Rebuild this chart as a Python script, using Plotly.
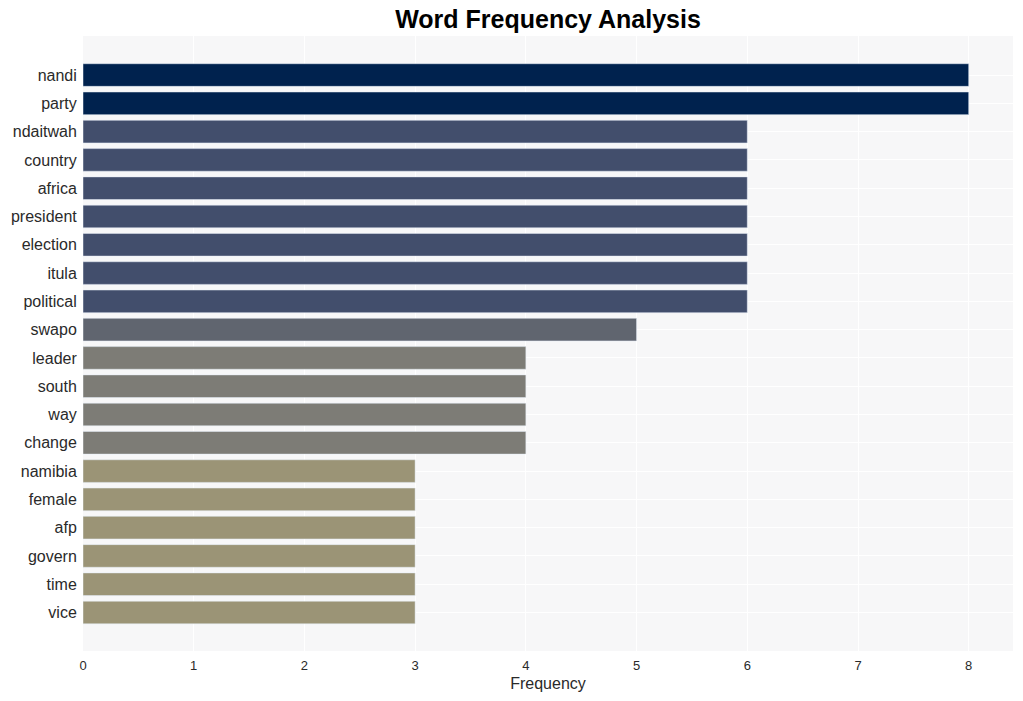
import plotly.graph_objects as go

words = ["nandi", "party", "ndaitwah", "country", "africa", "president", "election",
         "itula", "political", "swapo", "leader", "south", "way", "change",
         "namibia", "female", "afp", "govern", "time", "vice"]
freqs = [8, 8, 6, 6, 6, 6, 6, 6, 6, 5, 4, 4, 4, 4, 3, 3, 3, 3, 3, 3]

fig = go.Figure(go.Bar(
    x=freqs, y=words, orientation="h",
    marker=dict(color=freqs, colorscale="Cividis_r", cmin=0, cmax=8, showscale=False),
))

fig.update_layout(
    width=1023, height=701,
    margin=dict(l=83, r=10, t=36, b=50),
    paper_bgcolor="white",
    plot_bgcolor="#f7f7f8",
    font=dict(family="Arial, Liberation Sans, sans-serif", color="#2a2a2a"),
    title=dict(text="<b>Word Frequency Analysis</b>", x=0.5, xref="paper",
               y=0.972, yref="container", yanchor="middle",
               font=dict(size=25, color="black")),
    showlegend=False,
)
fig.update_xaxes(title=dict(text="Frequency", font=dict(size=16), standoff=6),
                 range=[0, 8.4], dtick=1, gridcolor="white", gridwidth=1,
                 zeroline=False, tickfont=dict(size=13), automargin=False,
                 ticks="outside", ticklen=2, tickcolor="rgba(0,0,0,0)")
fig.update_yaxes(range=[20.36, -1.38], gridcolor="white", tickfont=dict(size=16),
                 ticks="outside", ticklen=2, tickcolor="rgba(0,0,0,0)",
                 zeroline=False, automargin=False)

fig.write_html("out.html")
